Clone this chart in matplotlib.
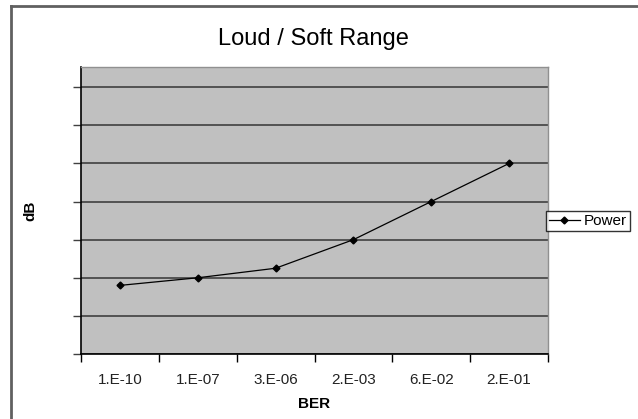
import matplotlib
matplotlib.use("Agg")
import matplotlib.pyplot as plt
from matplotlib.lines import Line2D
from matplotlib.ticker import FixedLocator, NullFormatter

ber_labels = ["1.E-10", "1.E-07", "3.E-06", "2.E-03", "6.E-02", "2.E-01"]
power_db = [1.8, 2.0, 2.25, 3.0, 4.0, 5.0]

plt.rcParams["font.family"] = ["Liberation Sans", "DejaVu Sans"]

fig = plt.figure(figsize=(6.38, 4.19), dpi=100)
W, H = 638, 419

# plot area in pixels: left 81, right 548, top 67, bottom 354
ax = fig.add_axes([81 / W, 1 - 354 / H, 467 / W, 287 / H])
ax.set_facecolor("#c0c0c0")

x = list(range(len(ber_labels)))
ax.plot(x, power_db, color="black", lw=0.9, marker="D", ms=3.5,
        mfc="black", mec="black", label="Power", zorder=3)

ax.set_xlim(-0.5, len(ber_labels) - 0.5)
ax.set_ylim(0, 7.53)

ax.set_yticks(range(0, 8))
ax.yaxis.set_major_formatter(NullFormatter())
ax.grid(axis="y", color="#404040", lw=1.2)
ax.set_axisbelow(True)

ax.set_xticks(x)
ax.set_xticklabels(ber_labels, fontsize=11, color="#222222")
ax.xaxis.set_minor_locator(FixedLocator([i - 0.5 for i in range(len(ber_labels) + 1)]))
ax.tick_params(axis="x", which="major", length=0, pad=14)
ax.tick_params(axis="x", which="minor", length=6, width=1, direction="out")
ax.tick_params(axis="y", length=6, width=1, direction="out", color="#404040")

for side in ["left", "bottom"]:
    ax.spines[side].set_color("black")
    ax.spines[side].set_linewidth(1.2)
for side in ["top", "right"]:
    ax.spines[side].set_color("#909090")
    ax.spines[side].set_linewidth(1)

ax.set_xlabel("BER", fontsize=11, fontweight="bold", labelpad=7)
ax.set_ylabel("dB", fontsize=11, fontweight="bold")
ax.yaxis.set_label_coords(37 / W, 1 - 211 / H, transform=fig.transFigure)

fig.text(313 / W, 1 - 39 / H, "Loud / Soft Range", fontsize=17,
         ha="center", va="center")

leg = ax.legend(loc="center left", bbox_to_anchor=(546 / W, 1 - 221 / H),
                bbox_transform=fig.transFigure, fontsize=11, frameon=True,
                fancybox=False, edgecolor="black", borderpad=0.2,
                handlelength=2.0, handletextpad=0.3, borderaxespad=0)
leg.get_frame().set_linewidth(1)

# chart-area border (left and top edges visible)
fig.add_artist(Line2D([11 / W, 11 / W], [0, 1 - 6 / H], color="#606060", lw=2))
fig.add_artist(Line2D([11 / W, 1], [1 - 6 / H, 1 - 6 / H], color="#606060", lw=2))

fig.savefig("out.png", dpi=100)
